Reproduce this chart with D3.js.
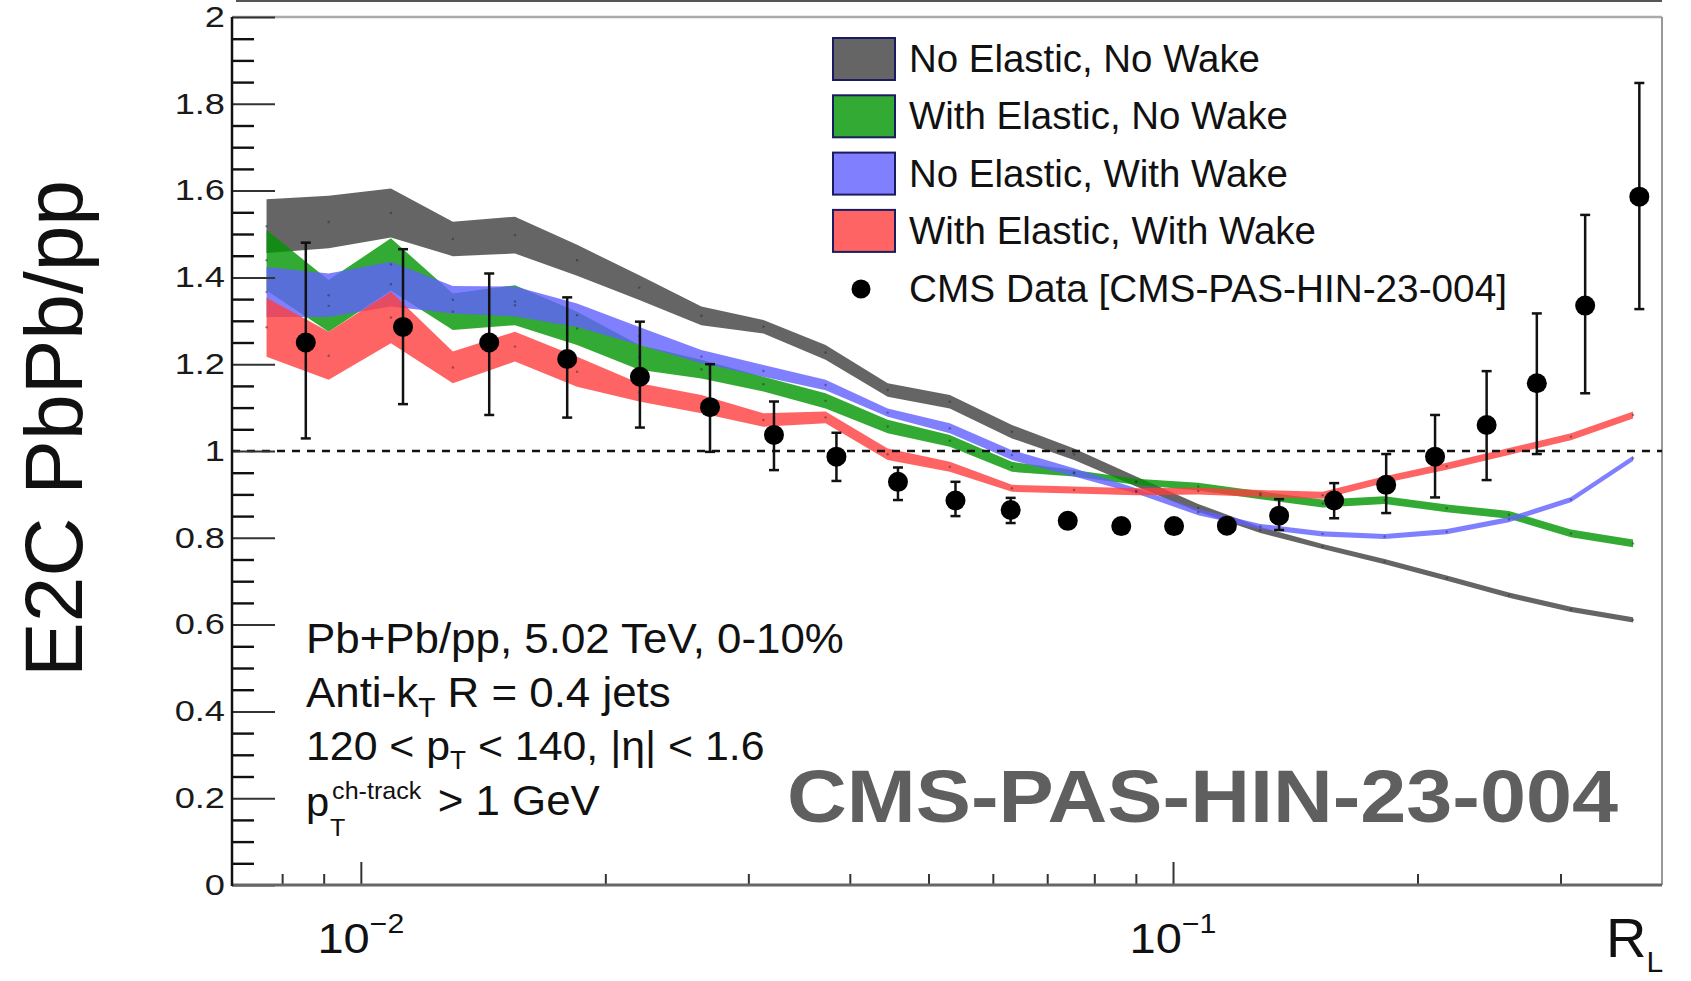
<!DOCTYPE html>
<html><head><meta charset="utf-8">
<script src="https://cdn.jsdelivr.net/npm/d3@7"></script>
<style>
html,body{margin:0;padding:0;background:#fff;}
svg{display:block;font-family:"Liberation Sans",Arial,Helvetica,sans-serif;}
</style></head><body>
<svg id="chart" width="1691" height="981"></svg>
<script>
// ---------------- data ----------------
const modelRL = [0.007654, 0.009128, 0.01089, 0.01298, 0.01548, 0.01846, 0.02202, 0.02626, 0.03131, 0.03734, 0.04453, 0.05311, 0.06334, 0.07554, 0.09008, 0.1074, 0.1281, 0.1528, 0.1822, 0.2173, 0.2592, 0.3090, 0.3685];

const noElNoWakeLo = [1.456, 1.467, 1.492, 1.449, 1.455, 1.404, 1.348, 1.290, 1.271, 1.210, 1.125, 1.098, 1.029, 0.979, 0.918, 0.860, 0.811, 0.774, 0.739, 0.701, 0.662, 0.629, 0.605];
const noElNoWakeHi = [1.580, 1.588, 1.605, 1.528, 1.540, 1.475, 1.405, 1.333, 1.302, 1.244, 1.156, 1.129, 1.060, 1.006, 0.941, 0.878, 0.825, 0.786, 0.751, 0.713, 0.674, 0.641, 0.617];

const elNoWakeLo = [1.370, 1.275, 1.370, 1.279, 1.290, 1.244, 1.187, 1.167, 1.137, 1.098, 1.041, 1.010, 0.952, 0.941, 0.922, 0.909, 0.889, 0.870, 0.878, 0.859, 0.844, 0.801, 0.778];
const elNoWakeHi = [1.509, 1.394, 1.490, 1.363, 1.382, 1.321, 1.244, 1.210, 1.171, 1.133, 1.072, 1.037, 0.975, 0.956, 0.936, 0.927, 0.907, 0.888, 0.896, 0.877, 0.862, 0.819, 0.796];

const noElWakeLo = [1.309, 1.309, 1.333, 1.317, 1.310, 1.286, 1.244, 1.202, 1.171, 1.140, 1.079, 1.041, 0.979, 0.941, 0.902, 0.852, 0.820, 0.803, 0.797, 0.808, 0.836, 0.882, 0.977];
const noElWakeHi = [1.424, 1.409, 1.436, 1.380, 1.379, 1.340, 1.286, 1.233, 1.198, 1.164, 1.098, 1.064, 1.002, 0.960, 0.914, 0.866, 0.832, 0.815, 0.809, 0.820, 0.848, 0.894, 0.989];

const elWakeLo = [1.217, 1.164, 1.248, 1.156, 1.206, 1.148, 1.114, 1.087, 1.056, 1.064, 0.979, 0.952, 0.906, 0.902, 0.898, 0.900, 0.894, 0.890, 0.926, 0.957, 0.991, 1.025, 1.075];
const elWakeHi = [1.353, 1.275, 1.367, 1.229, 1.275, 1.217, 1.156, 1.129, 1.087, 1.091, 1.006, 0.975, 0.922, 0.918, 0.914, 0.916, 0.910, 0.906, 0.942, 0.973, 1.007, 1.041, 1.091];

const cmsRL  = [0.008555, 0.01127, 0.01439, 0.01795, 0.02206, 0.02691, 0.03226, 0.03851, 0.04585, 0.05397, 0.06311, 0.07420, 0.08635, 0.1003, 0.1165, 0.1351, 0.1579, 0.1830, 0.2102, 0.2433, 0.2805, 0.3217, 0.3751];
const cmsVal = [1.250, 1.286, 1.250, 1.212, 1.171, 1.101, 1.037, 0.987, 0.929, 0.886, 0.864, 0.839, 0.827, 0.827, 0.828, 0.851, 0.886, 0.922, 0.987, 1.060, 1.156, 1.335, 1.586];
const cmsLo  = [1.029, 1.108, 1.083, 1.077, 1.054, 0.998, 0.956, 0.931, 0.887, 0.850, 0.834, 0.824, 0.815, 0.815, 0.815, 0.818, 0.845, 0.857, 0.893, 0.933, 0.993, 1.133, 1.327];
const cmsHi  = [1.480, 1.465, 1.409, 1.354, 1.298, 1.200, 1.114, 1.042, 0.962, 0.929, 0.892, 0.855, 0.840, 0.840, 0.842, 0.889, 0.926, 0.993, 1.083, 1.184, 1.317, 1.544, 1.848];

const seriesNames = ["No Elastic, No Wake", "With Elastic, No Wake", "No Elastic, With Wake", "With Elastic, With Wake"];
const dataName = "CMS Data [CMS-PAS-HIN-23-004]";

const yMajorTicks = [0, 0.2, 0.4, 0.6, 0.8, 1, 1.2, 1.4, 1.6, 1.8, 2];
const yTickLabels = ["0", "0.2", "0.4", "0.6", "0.8", "1", "1.2", "1.4", "1.6", "1.8", "2"];
const xMajorTicks = [0.01, 0.1];
const xTickBase = ["10", "10"];
const xTickExp = ["\u22122", "\u22121"];
const xMinorTicks = [0.008, 0.009, 0.02, 0.03, 0.04, 0.05, 0.06, 0.07, 0.08, 0.09, 0.2, 0.3];

// ---------------- setup ----------------
const svg = d3.select("#chart");
const FONT = '"Liberation Sans",Arial,Helvetica,sans-serif';
const x = d3.scaleLog().domain([0.00694, 0.4]).range([232, 1662]);
const y = d3.scaleLinear().domain([0, 2]).range([885, 17]);
const [X0, X1] = x.range();
const [Y0, Y1] = y.range();

// remnant of panel above
svg.append("line").attr("x1", 236).attr("x2", X1).attr("y1", 1).attr("y2", 1)
  .attr("stroke", "#555").attr("stroke-width", 2);

// frame top/right
svg.append("line").attr("x1", X0).attr("x2", X1).attr("y1", Y1).attr("y2", Y1)
  .attr("stroke", "#aaa").attr("stroke-width", 2.5);
svg.append("line").attr("x1", X1).attr("x2", X1).attr("y1", Y1).attr("y2", Y0)
  .attr("stroke", "#999").attr("stroke-width", 2);

// ---------------- bands ----------------
const bands = [
  {lo: noElNoWakeLo, hi: noElNoWakeHi, color: "rgb(101,101,101)", op: 1},
  {lo: elNoWakeLo, hi: elNoWakeHi, color: "rgb(0,149,0)", op: 0.8},
  {lo: noElWakeLo, hi: noElWakeHi, color: "rgb(96,96,255)", op: 0.8},
  {lo: elWakeLo, hi: elWakeHi, color: "rgb(255,61,61)", op: 0.8}
];
const area = d3.area().x(d => x(d.rl)).y0(d => y(d.lo)).y1(d => y(d.hi));
bands.forEach(b => {
  const pts = modelRL.map((rl, i) => ({rl, lo: b.lo[i], hi: b.hi[i]}));
  svg.append("path").datum(pts).attr("d", area)
    .attr("fill", b.color).attr("fill-opacity", b.op);
});
bands.forEach(b => {
  svg.append("g").selectAll("circle").data(modelRL).join("circle")
    .attr("cx", d => x(d)).attr("cy", (d, i) => y((b.lo[i] + b.hi[i]) / 2))
    .attr("r", 1.2).attr("fill", "#222").attr("opacity", 0.45);
});

// dashed unity line
svg.append("line").attr("x1", X0).attr("x2", X1).attr("y1", y(1)).attr("y2", y(1))
  .attr("stroke", "#111").attr("stroke-width", 2.5).attr("stroke-dasharray", "8,7");

// ---------------- axes ----------------
const yMinorTicks = d3.range(0, 2.0001, 0.05).filter(v => Math.abs(v / 0.2 - Math.round(v / 0.2)) > 1e-6);
const gyMinor = svg.append("g").attr("transform", `translate(${X0},0)`)
  .call(d3.axisLeft(y).tickValues(yMinorTicks).tickSizeInner(-22).tickSizeOuter(0).tickFormat(""));
gyMinor.select(".domain").remove();
gyMinor.selectAll(".tick line").attr("stroke", "#111").attr("stroke-width", 2.4);

const gy = svg.append("g").attr("transform", `translate(${X0},0)`)
  .call(d3.axisLeft(y).tickValues(yMajorTicks).tickSizeInner(-43).tickSizeOuter(0).tickPadding(8)
    .tickFormat(d => yTickLabels[yMajorTicks.indexOf(d)]));
gy.attr("font-family", FONT).attr("font-size", 29);
gy.select(".domain").remove();
gy.selectAll(".tick line").attr("stroke", "#333").attr("stroke-width", 2);
gy.selectAll(".tick text").attr("fill", "#1a1a1a").attr("x", -7 / 1.25).attr("transform", "scale(1.25,1)");

const gxMinor = svg.append("g").attr("transform", `translate(0,${Y0})`)
  .call(d3.axisBottom(x).tickValues(xMinorTicks).tickSizeInner(-11).tickSizeOuter(0).tickFormat(""));
gxMinor.select(".domain").remove();
gxMinor.selectAll(".tick line").attr("stroke", "#333").attr("stroke-width", 2);
const gxMajor = svg.append("g").attr("transform", `translate(0,${Y0})`)
  .call(d3.axisBottom(x).tickValues(xMajorTicks).tickSizeInner(-23).tickSizeOuter(0).tickFormat(""));
gxMajor.select(".domain").remove();
gxMajor.selectAll(".tick line").attr("stroke", "#333").attr("stroke-width", 2);

// axis lines
svg.append("line").attr("x1", X0).attr("x2", X1).attr("y1", Y0).attr("y2", Y0)
  .attr("stroke", "#666").attr("stroke-width", 3);
svg.append("line").attr("x1", X0).attr("x2", X0).attr("y1", Y1).attr("y2", Y0 + 1)
  .attr("stroke", "#111").attr("stroke-width", 2.5);

// x tick labels
xMajorTicks.forEach((t, i) => {
  const tx = svg.append("text").attr("transform", `translate(${x(t)},953) scale(1.12,1)`)
    .attr("text-anchor", "middle").attr("font-family", FONT).attr("fill", "#111");
  tx.append("tspan").attr("font-size", 42).text(xTickBase[i]);
  tx.append("tspan").attr("font-size", 27).attr("dy", -20).text(xTickExp[i]);
});

// axis titles
svg.append("text").attr("transform", "translate(81.5,428.5) rotate(-90)")
  .attr("text-anchor", "middle").attr("font-family", FONT).attr("font-size", 82)
  .attr("fill", "#111").text("E2C PbPb/pp");
const xt = svg.append("text").attr("x", 1606).attr("y", 957).attr("font-family", FONT).attr("fill", "#111");
xt.append("tspan").attr("font-size", 56).text("R");
xt.append("tspan").attr("font-size", 30).attr("dy", 15).text("L");

// ---------------- CMS data ----------------
const gd = svg.append("g");
cmsRL.forEach((rl, i) => {
  const cx = x(rl);
  gd.append("line").attr("x1", cx).attr("x2", cx).attr("y1", y(cmsLo[i])).attr("y2", y(cmsHi[i]))
    .attr("stroke", "#111").attr("stroke-width", 2.5);
  [cmsLo[i], cmsHi[i]].forEach(v => {
    gd.append("line").attr("x1", cx - 5).attr("x2", cx + 5).attr("y1", y(v)).attr("y2", y(v))
      .attr("stroke", "#111").attr("stroke-width", 2.5);
  });
});
gd.selectAll("circle").data(cmsRL).join("circle")
  .attr("cx", d => x(d)).attr("cy", (d, i) => y(cmsVal[i])).attr("r", 10).attr("fill", "#000");

// ---------------- legend ----------------
const legendWidths = [351, 379, 379, 407];
const lg = svg.append("g").attr("font-family", FONT).attr("font-size", 38).attr("fill", "#111");
seriesNames.forEach((name, i) => {
  const cy = 59 + 57.3 * i;
  lg.append("rect").attr("x", 833).attr("y", cy - 21).attr("width", 62).attr("height", 42)
    .attr("fill", "#fff");
  lg.append("rect").attr("x", 833).attr("y", cy - 21).attr("width", 62).attr("height", 42)
    .attr("fill", bands[i].color).attr("fill-opacity", bands[i].op)
    .attr("stroke", "#1b1b60").attr("stroke-width", 2);
  lg.append("text").attr("x", 909).attr("y", cy + 13)
    .attr("textLength", legendWidths[i]).attr("lengthAdjust", "spacingAndGlyphs").text(name);
});
lg.append("circle").attr("cx", 861).attr("cy", 289).attr("r", 9.5).attr("fill", "#000");
lg.append("text").attr("x", 909).attr("y", 289 + 13)
  .attr("textLength", 598).attr("lengthAdjust", "spacingAndGlyphs").text(dataName);

// ---------------- annotations ----------------
const an = svg.append("g").attr("font-family", FONT).attr("fill", "#111")
  .attr("transform", "translate(306,0) scale(1.045,1) translate(-306,0)");
an.append("text").attr("x", 306).attr("y", 653).attr("font-size", 42).text("Pb+Pb/pp, 5.02 TeV, 0-10%");
const l2 = an.append("text").attr("x", 306).attr("y", 707).attr("font-size", 42);
l2.append("tspan").text("Anti-k");
l2.append("tspan").attr("font-size", 27).attr("dy", 10).text("T");
l2.append("tspan").attr("dy", -10).text(" R = 0.4 jets");
const l3 = an.append("text").attr("x", 306).attr("y", 760).attr("font-size", 41);
l3.append("tspan").text("120 < p");
l3.append("tspan").attr("font-size", 25).attr("dy", 9).text("T");
l3.append("tspan").attr("dy", -9).text(" < 140, |\u03B7| < 1.6");
an.append("text").attr("x", 306).attr("y", 816).attr("font-size", 40).text("p");
an.append("text").attr("x", 331).attr("y", 799).attr("font-size", 24).text("ch-track");
an.append("text").attr("x", 329).attr("y", 836).attr("font-size", 24).text("T");
an.append("text").attr("x", 432).attr("y", 815).attr("font-size", 42).text("> 1 GeV");

svg.append("text").attr("x", 787).attr("y", 822).attr("font-family", FONT).attr("font-weight", "bold")
  .attr("font-size", 75).attr("fill", "#5f5f5f")
  .attr("textLength", 831).attr("lengthAdjust", "spacingAndGlyphs").text("CMS-PAS-HIN-23-004");
</script>
</body></html>
